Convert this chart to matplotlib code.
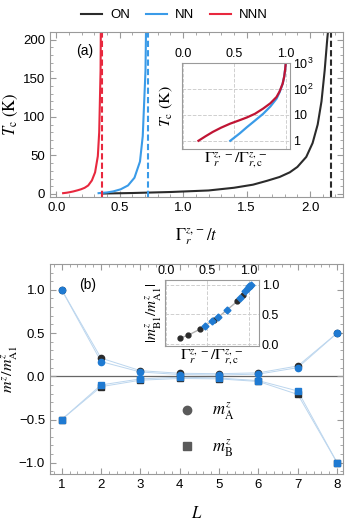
import numpy as np
import matplotlib
matplotlib.use('Agg')
from matplotlib import pyplot as plt
from matplotlib.lines import Line2D
from matplotlib.ticker import MultipleLocator, FixedLocator, FixedFormatter, NullLocator

plt.rcParams['font.family'] = ['Liberation Sans', 'DejaVu Sans']
plt.rcParams['mathtext.fontset'] = 'stix'
plt.rcParams['font.size'] = 9

# critical couplings (Gamma_c / t)
gc_on, gc_nn, gc_nnn = 2.165, 0.725, 0.36

# Tc vs Gamma/Gamma_c (inset a), NNN and NN
nnn_ratio = [0.15, 0.22, 0.29, 0.37, 0.46, 0.54, 0.62, 0.70, 0.78, 0.85, 0.91, 0.94, 0.97, 0.985, 0.995, 1.0]
nnn_tc = [1.0, 1.5, 2.2, 3.2, 4.6, 6.0, 7.9, 11, 17.5, 28, 49, 80, 160, 300, 600, 1000]
nn_ratio = [0.46, 0.55, 0.62, 0.70, 0.78, 0.85, 0.91, 0.94, 0.97, 0.985, 0.995, 1.0]
nn_tc = [1.0, 1.9, 3.3, 6.0, 11, 21, 42, 75, 160, 300, 600, 1000]

# ON curve in main panel (Gamma/t, Tc)
on_g = [0.36, 0.6, 0.9, 1.2, 1.4, 1.55, 1.66, 1.76, 1.84, 1.9, 1.97, 2.02, 2.06, 2.09, 2.115, 2.135, 2.15]
on_tc = [0.5, 1.2, 2.5, 4.5, 8, 12, 17, 22, 28, 35, 48, 66, 90, 120, 160, 200, 225]

# panel (b): layer profiles
L = [1, 2, 3, 4, 5, 6, 7, 8]
mA_black = [1.0, 0.21, 0.065, 0.035, 0.03, 0.04, 0.12, 0.5]
mA_blue = [1.0, 0.17, 0.05, 0.02, 0.015, 0.025, 0.10, 0.5]
mB_black = [-0.5, -0.12, -0.045, -0.025, -0.03, -0.06, -0.21, -1.0]
mB_blue = [-0.5, -0.10, -0.03, -0.01, -0.02, -0.05, -0.17, -1.0]

# inset b: |mB1/mA1| vs Gamma/Gamma_c
ib_black_x = [0.17, 0.27, 0.41, 0.58, 0.86, 0.93, 1.01]
ib_black_y = [0.10, 0.15, 0.25, 0.41, 0.72, 0.83, 0.97]
ib_blue_x = [0.47, 0.55, 0.63, 0.74, 0.89, 0.95, 0.99, 1.0, 1.02]
ib_blue_y = [0.31, 0.38, 0.45, 0.58, 0.78, 0.89, 0.95, 0.98, 1.0]

black = '#2b2b2b'
blue = '#3a9be8'
red = '#e8283e'
red_dk = '#c01434'
mblue = '#1f7ad2'
spine_c = '#9a9a9a'


def style(ax, top=True, right=True):
    for s in ax.spines.values():
        s.set_color(spine_c)
        s.set_linewidth(0.8)
    ax.tick_params(which='both', direction='in', top=top, right=right,
                   color=spine_c, labelsize=9.5)
    ax.tick_params(which='major', length=4)
    ax.tick_params(which='minor', length=2)


fig = plt.figure(figsize=(3.49, 5.24), dpi=100)

# ---- panel (a)
ax1 = fig.add_axes([0.143, 0.624, 0.840, 0.315])
ax1.plot(on_g, on_tc, color=black, lw=1.5, label='ON')
ax1.plot(np.array(nn_ratio) * gc_nn, nn_tc, color=blue, lw=1.5, label='NN')
ax1.plot(np.array(nnn_ratio) * gc_nnn, nnn_tc, color=red, lw=1.5, label='NNN')
ax1.axvline(gc_on, color=black, lw=1.5, ls=(0, (3, 1.5)))
ax1.axvline(gc_nn, color=blue, lw=1.5, ls=(0, (3, 1.5)))
ax1.axvline(gc_nnn, color=red, lw=1.5, ls=(0, (3, 1.5)))
ax1.set_xlim(-0.05, 2.26)
ax1.set_ylim(-4, 210)
ax1.xaxis.set_major_locator(MultipleLocator(0.5))
ax1.xaxis.set_minor_locator(MultipleLocator(0.1))
ax1.yaxis.set_major_locator(MultipleLocator(50))
ax1.yaxis.set_minor_locator(MultipleLocator(10))
ax1.set_xticks([0, 0.5, 1.0, 1.5, 2.0])
ax1.set_xticklabels(['0.0', '0.5', '1.0', '1.5', '2.0'])
style(ax1)
ax1.set_xlabel(r'$\Gamma_r^{z,-}/t$', fontsize=12, labelpad=9)
ax1.set_ylabel(r'$T_{\mathrm{c}}\ (\mathrm{K})$', fontsize=12, labelpad=2)
ax1.text(0.09, 0.93, '(a)', transform=ax1.transAxes, fontsize=10, va='top')

fig.legend(handles=[Line2D([], [], color=black, lw=1.5),
                    Line2D([], [], color=blue, lw=1.5),
                    Line2D([], [], color=red, lw=1.5)],
           labels=['ON', 'NN', 'NNN'], ncol=3, loc='upper center',
           bbox_to_anchor=(0.5, 1.005), frameon=False, fontsize=9.5,
           handlelength=1.6, columnspacing=1.2, handletextpad=0.6)

# inset a
ia = fig.add_axes([0.5215, 0.7156, 0.309, 0.164])
ia.plot(nn_ratio, nn_tc, color=blue, lw=1.6)
ia.plot(nnn_ratio, nnn_tc, color=red_dk, lw=1.6)
ia.set_yscale('log')
ia.set_xlim(-0.01, 1.04)
ia.set_ylim(0.48, 1000)
ia.yaxis.set_major_locator(FixedLocator([1, 10, 100, 1000]))
ia.yaxis.set_major_formatter(FixedFormatter(['1', '10', r'$\mathregular{10^2}$', r'$\mathregular{10^3}$']))
ia.yaxis.set_minor_locator(NullLocator())
ia.set_xticks([0, 0.5, 1.0])
ia.set_xticklabels(['0.0', '0.5', '1.0'])
ia.grid(True, color='#cfcfcf', ls='--', lw=0.7)
for s in ia.spines.values():
    s.set_color(spine_c)
    s.set_linewidth(0.8)
ia.tick_params(which='both', length=0, labelsize=9, pad=2,
               labeltop=True, labelbottom=False, labelright=True, labelleft=False)
ia.set_xlabel(r'$\Gamma_r^{z,-}/\Gamma_{r,\mathrm{c}}^{z,-}$', fontsize=11.5, labelpad=1)
ia.set_ylabel(r'$T_{\mathrm{c}}\ (\mathrm{K})$', fontsize=11.5, labelpad=5)

# ---- panel (b)
ax2 = fig.add_axes([0.143, 0.0954, 0.840, 0.401])
line_c = '#bcd6ee'
for ys in (mA_black, mA_blue, mB_black, mB_blue):
    ax2.plot(L, ys, color=line_c, lw=0.7, zorder=1)
ax2.axhline(0, color='#666666', lw=0.9, zorder=1)
ax2.plot(L, mA_black, 'o', color=black, ms=4.5, zorder=2)
ax2.plot(L, mB_black, 's', color=black, ms=4.5, zorder=2)
ax2.plot(L, mA_blue, 'o', color=mblue, ms=4.5, zorder=3)
ax2.plot(L, mB_blue, 's', color=mblue, ms=4.5, zorder=3)
ax2.set_xlim(0.7, 8.15)
ax2.set_ylim(-1.13, 1.3)
ax2.xaxis.set_major_locator(MultipleLocator(1))
ax2.xaxis.set_minor_locator(MultipleLocator(0.2))
ax2.yaxis.set_major_locator(MultipleLocator(0.5))
ax2.yaxis.set_minor_locator(MultipleLocator(0.1))
ax2.set_yticks([-1.0, -0.5, 0.0, 0.5, 1.0])
ax2.set_yticklabels(['\u22121.0', '\u22120.5', '0.0', '0.5', '1.0'])
style(ax2)
ax2.set_xlabel(r'$L$', fontsize=12, labelpad=10)
ax2.set_ylabel(r'$m^z/m^z_{\mathrm{A1}}$', fontsize=11.5, labelpad=-1)
ax2.text(0.1, 0.935, '(b)', transform=ax2.transAxes, fontsize=10, va='top')
ax2.legend(handles=[Line2D([], [], ls='', marker='o', color='#5a5a5a', ms=6),
                    Line2D([], [], ls='', marker='s', color='#5a5a5a', ms=6)],
           labels=[r'$m^z_{\mathrm{A}}$', r'$m^z_{\mathrm{B}}$'],
           loc='center left', bbox_to_anchor=(0.36, 0.21), frameon=False,
           fontsize=12, labelspacing=0.9, handletextpad=0.5)

# inset b
ib = fig.add_axes([0.473, 0.340, 0.269, 0.126])
allx = ib_black_x + ib_blue_x
ally = ib_black_y + ib_blue_y
order = np.argsort(allx)
ib.plot(np.array(allx)[order], np.array(ally)[order], color='#b0b0b0', lw=1.0, zorder=1)
ib.plot(ib_black_x, ib_black_y, 'o', color=black, ms=3.5, zorder=2)
ib.plot(ib_blue_x, ib_blue_y, 'D', color=mblue, ms=3.5, zorder=3)
ib.set_xlim(-0.01, 1.12)
ib.set_ylim(-0.03, 1.08)
ib.set_xticks([0, 0.5, 1.0])
ib.set_xticklabels(['0.0', '0.5', '1.0'])
ib.set_yticks([0, 0.5, 1.0])
ib.set_yticklabels(['0.0', '0.5', '1.0'])
ib.grid(True, color='#cfcfcf', ls='--', lw=0.7)
for s in ib.spines.values():
    s.set_color(spine_c)
    s.set_linewidth(0.8)
ib.tick_params(which='both', length=0, labelsize=9, pad=2,
               labeltop=True, labelbottom=False, labelright=True, labelleft=False)
ib.set_xlabel(r'$\Gamma_r^{z,-}/\Gamma_{r,\mathrm{c}}^{z,-}$', fontsize=11.5, labelpad=1)
ib.set_ylabel(r'$|m^z_{\mathrm{B1}}/m^z_{\mathrm{A1}}|$', fontsize=11, labelpad=1)

fig.savefig('out.png', dpi=100)
